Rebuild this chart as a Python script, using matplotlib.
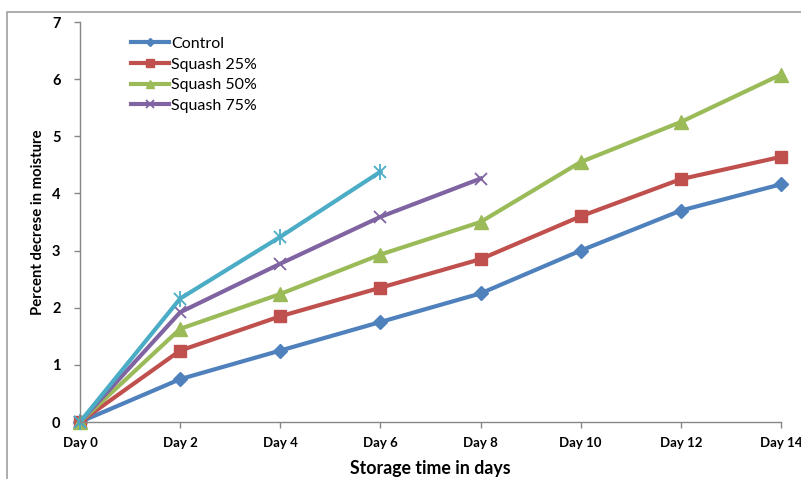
import matplotlib
matplotlib.use("Agg")
import matplotlib.pyplot as plt
from matplotlib.patches import Rectangle

# Moisture loss during storage
days = ["Day 0", "Day 2", "Day 4", "Day 6", "Day 8", "Day 10", "Day 12", "Day 14"]
control = [0, 0.75, 1.25, 1.75, 2.25, 3.0, 3.7, 4.16]
squash25 = [0, 1.25, 1.85, 2.35, 2.85, 3.6, 4.25, 4.64]
squash50 = [0, 1.63, 2.24, 2.93, 3.5, 4.55, 5.25, 6.08]
squash75 = [0, 1.92, 2.77, 3.59, 4.26]
series5 = [0, 2.16, 3.24, 4.38]

plt.rcParams["font.family"] = ["Lato", "DejaVu Sans"]

fig = plt.figure(figsize=(8.01, 4.79), dpi=100)
ax = fig.add_axes([80 / 801, 1 - 422 / 479, 701 / 801, 400 / 479])

# chart area border
fig.patches.append(Rectangle((7 / 801, -0.1), 1.2, 1 - 12 / 479 + 0.1,
                             transform=fig.transFigure, fill=False,
                             edgecolor="#a0a0a0", linewidth=1.2))

x = list(range(len(days)))
lw = 3
ax.plot(x, control, color="#4F81BD", lw=lw, marker="D", ms=7.5, label="Control")
ax.plot(x, squash25, color="#C0504D", lw=lw, marker="s", ms=8.5, label="Squash 25%")
ax.plot(x, squash50, color="#9BBB59", lw=lw, marker="^", ms=10, label="Squash 50%")
ax.plot(x[:5], squash75, color="#8064A2", lw=lw, marker="x", ms=9, mew=1.3, label="Squash 75%")
ax.plot(x[:4], series5, color="#4BACC6", lw=lw, marker="x", ms=9, mew=1.3)
ax.plot(x[:4], series5, color="#4BACC6", lw=0, marker="|", ms=12, mew=1.3)

ax.set_xlim(0, 7)
ax.set_ylim(0, 7)
ax.set_xticks(x)
ax.set_xticklabels(days, fontsize=9.5, fontweight="bold")
ax.set_yticks(range(8))
ax.set_yticklabels([str(v) for v in range(8)], fontsize=10.5, fontweight="bold")
ax.tick_params(axis="both", color="#868686", length=4, width=1)
ax.tick_params(axis="x", pad=7)
ax.tick_params(axis="y", pad=10)
for s in ["top", "right"]:
    ax.spines[s].set_visible(False)
for s in ["left", "bottom"]:
    ax.spines[s].set_color("#868686")
    ax.spines[s].set_linewidth(1)
for t in ax.get_xticklabels():
    t.set_clip_on(False)

ax.set_xlabel("Storage time in days", fontsize=12.8, fontweight="bold", labelpad=8)
ax.set_ylabel("Percent decrese in moisture", fontsize=10.7, fontweight="bold", labelpad=5)

leg = ax.legend(loc="upper left", bbox_to_anchor=(0.062, 0.983), frameon=False, fontsize=11.5,
                handlelength=2.35, handletextpad=0.15, labelspacing=0.4, borderpad=0,
                markerscale=0.6)

for line in ax.get_lines():
    line.set_clip_on(False)

fig.savefig("out.png", dpi=100)
